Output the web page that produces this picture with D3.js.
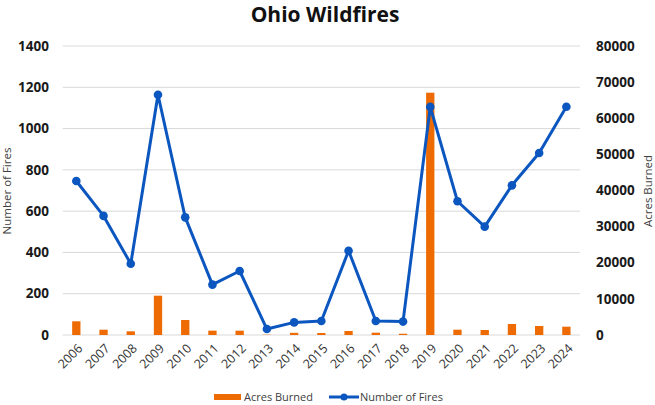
<!DOCTYPE html>
<html lang="en">
<head>
<meta charset="UTF-8">
<title>Ohio Wildfires</title>
<script src="https://d3js.org/d3.v7.min.js"></script>
<style>
    body { margin: 0; padding: 0; background: #ffffff; }
    svg { display: block; font-family: 'Open Sans', sans-serif; }
    .grid line { stroke: #d9d9d9; stroke-width: 1; }
    .tick-label { font-size: 13.5px; font-weight: bold; fill: #1a1a1a; }
    .x-label { font-size: 12.5px; fill: #333333; }
    .axis-title { font-size: 11.5px; fill: #404040; }
    .legend-text { font-size: 11px; fill: #404040; }
</style>
</head>
<body>
<svg id="chart" width="655" height="405"></svg>
<script>
    const years = ["2006","2007","2008","2009","2010","2011","2012","2013","2014","2015",
                   "2016","2017","2018","2019","2020","2021","2022","2023","2024"];
    const acresBurned = [3790, 1470, 1020, 10880, 4150, 1200, 1200, 80, 600, 550,
                         1100, 640, 350, 67070, 1470, 1380, 3040, 2490, 2300];
    const numberOfFires = [746, 577, 345, 1164, 570, 244, 310, 29, 61, 68,
                           408, 68, 65, 1105, 648, 525, 725, 882, 1106];
    const fireTicks = [0, 200, 400, 600, 800, 1000, 1200, 1400];
    const acreTicks = [0, 10000, 20000, 30000, 40000, 50000, 60000, 70000, 80000];

    const orange = "#ee6a02", blue = "#0b56bf";
    const plotLeft = 62.7, plotRight = 580, plotTop = 46, plotBottom = 335;

    const svg = d3.select("#chart");

    const x = d3.scaleBand().domain(years).range([plotLeft, plotRight]);
    const yFires = d3.scaleLinear().domain([0, 1400]).range([plotBottom, plotTop]);
    const yAcres = d3.scaleLinear().domain([0, 80000]).range([plotBottom, plotTop]);

    // title
    svg.append("text")
       .attr("x", 325).attr("y", 21.5)
       .attr("text-anchor", "middle")
       .style("font-size", "21px").style("font-weight", "bold").style("fill", "#111")
       .text("Ohio Wildfires");

    // gridlines
    svg.append("g").attr("class", "grid")
       .selectAll("line").data(fireTicks).enter().append("line")
       .attr("x1", plotLeft).attr("x2", plotRight)
       .attr("y1", d => yFires(d)).attr("y2", d => yFires(d));

    // left ticks
    svg.append("g").selectAll("text").data(fireTicks).enter().append("text")
       .attr("class", "tick-label")
       .attr("x", 49).attr("y", d => yFires(d)).attr("dy", "0.35em")
       .attr("text-anchor", "end")
       .text(d => d);

    // right ticks
    svg.append("g").selectAll("text").data(acreTicks).enter().append("text")
       .attr("class", "tick-label")
       .attr("x", 596).attr("y", d => yAcres(d)).attr("dy", "0.35em")
       .attr("text-anchor", "start")
       .text(d => d);

    // bars
    const barW = 8.3;
    svg.append("g").selectAll("rect").data(years).enter().append("rect")
       .attr("x", d => x(d) + x.bandwidth() / 2 - barW / 2)
       .attr("width", barW)
       .attr("y", (d, i) => yAcres(acresBurned[i]))
       .attr("height", (d, i) => plotBottom - yAcres(acresBurned[i]))
       .attr("fill", orange);

    // line
    const line = d3.line()
        .x((d, i) => x(years[i]) + x.bandwidth() / 2)
        .y(d => yFires(d));

    svg.append("path")
       .datum(numberOfFires)
       .attr("d", line)
       .attr("fill", "none")
       .attr("stroke", blue)
       .attr("stroke-width", 3)
       .attr("stroke-linejoin", "round");

    svg.append("g").selectAll("circle").data(numberOfFires).enter().append("circle")
       .attr("cx", (d, i) => x(years[i]) + x.bandwidth() / 2)
       .attr("cy", d => yFires(d))
       .attr("r", 4.3)
       .attr("fill", blue);

    // x labels
    svg.append("g").selectAll("text").data(years).enter().append("text")
       .attr("class", "x-label")
       .attr("text-anchor", "end")
       .attr("transform", d => "translate(" + (x(d) + x.bandwidth() / 2 + 4) + "," + 346 + ") rotate(-45)")
       .attr("dy", "0.35em")
       .text(d => d);

    // axis titles
    svg.append("text").attr("class", "axis-title")
       .attr("transform", "translate(11,191) rotate(-90)")
       .attr("text-anchor", "middle")
       .text("Number of Fires");

    svg.append("text").attr("class", "axis-title")
       .attr("transform", "translate(652,191) rotate(-90)")
       .attr("text-anchor", "middle")
       .text("Acres Burned");

    // legend
    svg.append("rect").attr("x", 214).attr("y", 394).attr("width", 27).attr("height", 6).attr("fill", orange);
    svg.append("text").attr("class", "legend-text").attr("x", 244).attr("y", 397).attr("dy", "0.35em").text("Acres Burned");
    svg.append("line").attr("x1", 329).attr("x2", 359).attr("y1", 397).attr("y2", 397)
       .attr("stroke", blue).attr("stroke-width", 3);
    svg.append("circle").attr("cx", 344).attr("cy", 397).attr("r", 3.5).attr("fill", blue);
    svg.append("text").attr("class", "legend-text").attr("x", 360).attr("y", 397).attr("dy", "0.35em").text("Number of Fires");
</script>
</body>
</html>
